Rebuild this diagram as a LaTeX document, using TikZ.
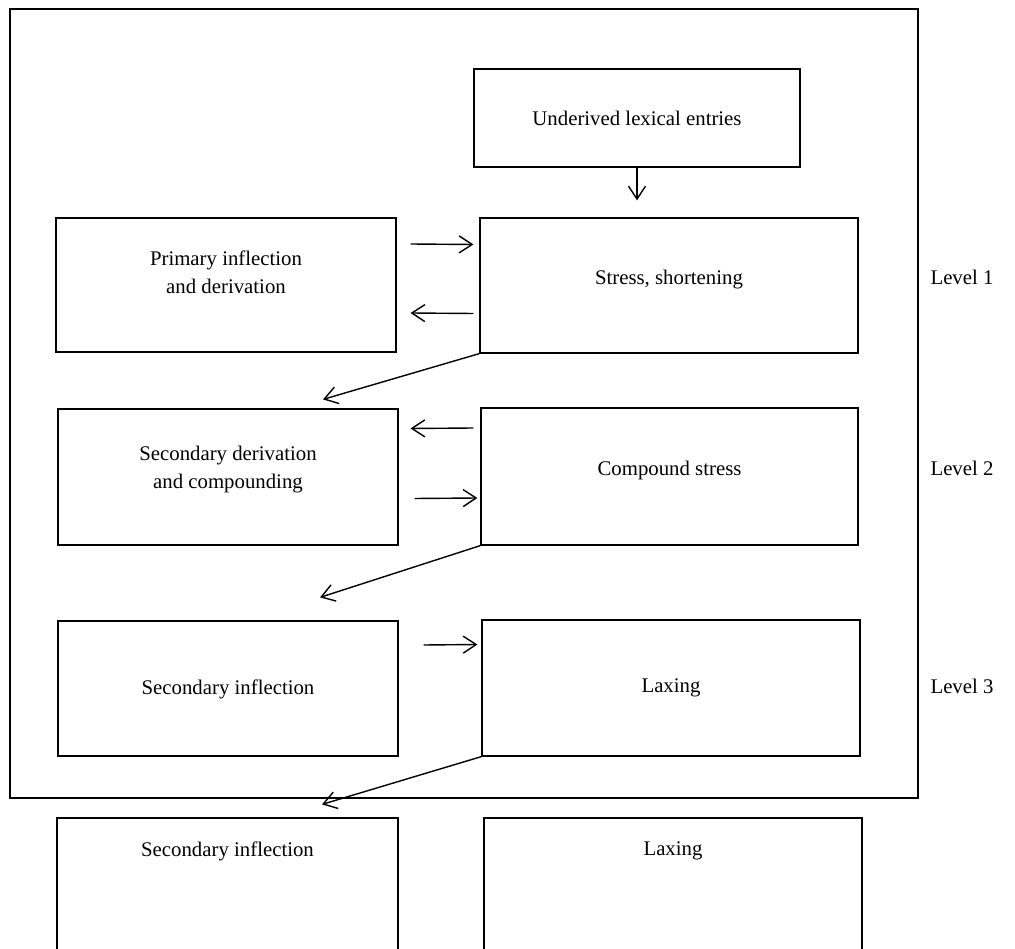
\documentclass[tikz,border=0pt]{standalone}
\usepackage{fontspec}
\setmainfont{Liberation Serif}
\usetikzlibrary{arrows.meta}

\begin{document}
\begin{tikzpicture}[
    x=1pt, y=-1pt,
    >={Straight Barb[length=13pt,width=17pt,line width=1.4pt]},
    box/.style={draw,
      line width=1.2pt,
      align=center,
      inner sep=0pt,
      font=\fontsize{20.8}{28}\selectfont},
    link/.style={->, line width=1.4pt},
    lvl/.style={font=\fontsize{20.8}{28}\selectfont}
  ]
  \useasboundingbox (0,0) rectangle (1015,949);
  % outer frame round the three levels
  \draw[line width=1.8pt] (10,9) rectangle (918,798);

  \node[box, minimum width=326pt, minimum height=98pt] (under) at (637,118) {Underived lexical entries};
  \node[box, minimum width=340pt, minimum height=134pt, text depth=26pt] (prim) at (226,285) {Primary inflection\\and derivation};
  \node[box, minimum width=378pt, minimum height=135pt, text depth=16pt] (stress) at (669,285.5) {Stress, shortening};
  \node[box, minimum width=340pt, minimum height=136pt, text depth=20pt] (sdc) at (228,477) {Secondary derivation\\and compounding};
  \node[box, minimum width=377pt, minimum height=137pt, text depth=16pt] (cstress) at (669.5,476.5) {Compound stress};
  \node[box, minimum width=340pt, minimum height=135pt, text depth=3pt] (sinf) at (228,688.5) {Secondary inflection};
  \node[box, minimum width=378pt, minimum height=136pt, text depth=4pt] (lax) at (671,688) {Laxing};
  \node[box, minimum width=341pt, minimum height=140pt, text depth=78pt] (sinfb) at (227.5,888) {Secondary inflection};
  \node[box, minimum width=378pt, minimum height=140pt, text depth=78pt] (laxb) at (673,888) {Laxing};

  \node[lvl, anchor=west] (lvl1) at (927,277) {Level 1};
  \node[lvl, anchor=west] (lvl2) at (927,468) {Level 2};
  \node[lvl, anchor=west] (lvl3) at (927,686) {Level 3};

  \draw[link] (under.south) -- ([xshift=-32pt,yshift=17pt]stress.north);
  \draw[link] ([xshift=14pt,yshift=41pt]prim.east) -- ([xshift=-6pt,yshift=41pt]stress.west);
  \draw[link] ([xshift=-6pt,yshift=-28pt]stress.west) -- ([xshift=14pt,yshift=-28pt]prim.east);
  \draw[link] (stress.south west) -- ([xshift=95pt,yshift=9pt]sdc.north);
  \draw[link] ([xshift=-7pt,yshift=48.5pt]cstress.west) -- ([xshift=12pt,yshift=48.5pt]sdc.east);
  \draw[link] ([xshift=16pt,yshift=-21.5pt]sdc.east) -- ([xshift=-3pt,yshift=-21.5pt]cstress.west);
  \draw[link] (cstress.south west) -- ([xshift=92pt,yshift=23pt]sinf.north);
  \draw[link] ([xshift=25pt,yshift=43.5pt]sinf.east) -- ([xshift=-4pt,yshift=43.5pt]lax.west);
  \draw[link] (lax.south west) -- ([xshift=94.5pt,yshift=13pt]sinfb.north);
\end{tikzpicture}
\end{document}
